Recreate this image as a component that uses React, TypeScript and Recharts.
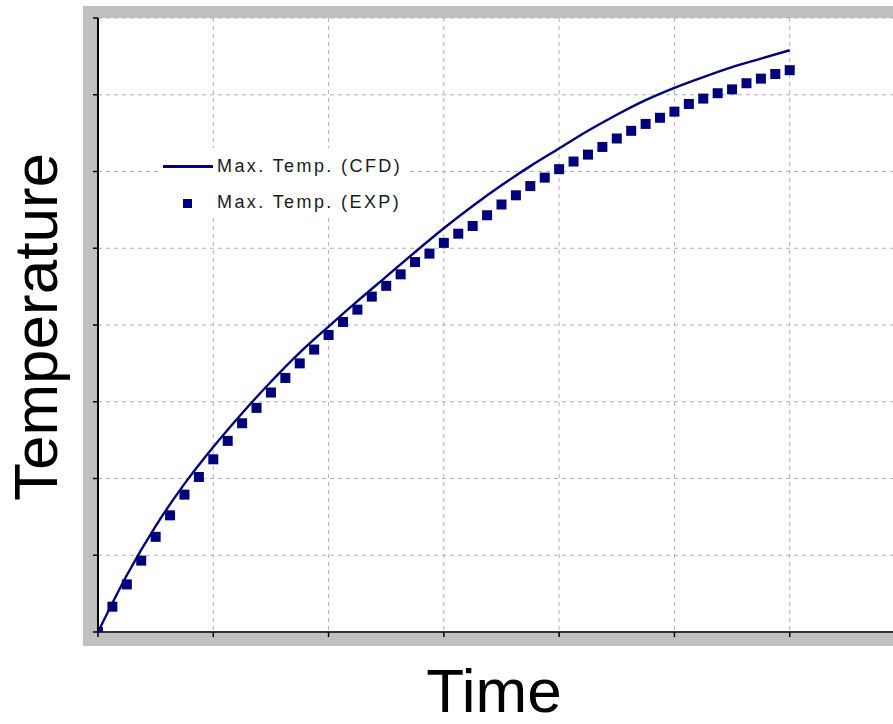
import React from 'react';
import { ComposedChart, Line, Scatter, XAxis, YAxis, CartesianGrid, Legend, Label } from 'recharts';

const xTicks = [0, 1, 2, 3, 4, 5, 6, 7];
const yTicks = [0, 1, 2, 3, 4, 5, 6, 7, 8];

const cfdTime = [0, 0.25, 0.5, 0.75, 1.0, 1.25, 1.5, 1.75, 2.0, 2.25, 2.5, 2.75, 3.0, 3.25, 3.5, 3.75, 4.0, 4.25, 4.5, 4.75, 5.0, 5.25, 5.5, 5.75, 6.0];
const cfdTemp = [0, 0.74, 1.38, 1.93, 2.41, 2.85, 3.26, 3.64, 3.98, 4.31, 4.63, 4.95, 5.26, 5.55, 5.82, 6.07, 6.3, 6.53, 6.74, 6.93, 7.09, 7.23, 7.36, 7.47, 7.58];

const expTime = [0, 0.125, 0.25, 0.375, 0.5, 0.625, 0.75, 0.875, 1.0, 1.125, 1.25, 1.375, 1.5, 1.625, 1.75, 1.875, 2.0, 2.125, 2.25, 2.375, 2.5, 2.625, 2.75, 2.875, 3.0, 3.125, 3.25, 3.375, 3.5, 3.625, 3.75, 3.875, 4.0, 4.125, 4.25, 4.375, 4.5, 4.625, 4.75, 4.875, 5.0, 5.125, 5.25, 5.375, 5.5, 5.625, 5.75, 5.875, 6.0];
const expTemp = [0, 0.33, 0.62, 0.93, 1.24, 1.52, 1.79, 2.02, 2.25, 2.49, 2.72, 2.92, 3.12, 3.31, 3.5, 3.68, 3.87, 4.04, 4.2, 4.37, 4.51, 4.66, 4.82, 4.93, 5.07, 5.19, 5.29, 5.43, 5.57, 5.69, 5.81, 5.92, 6.03, 6.13, 6.22, 6.32, 6.43, 6.53, 6.62, 6.7, 6.78, 6.88, 6.95, 7.02, 7.07, 7.15, 7.21, 7.27, 7.32];

const seriesNames = ['Max. Temp. (CFD)', 'Max. Temp. (EXP)'];
const xTitle = 'Time';
const yTitle = 'Temperature';

const cfdData = cfdTime.map((t, i) => ({ t, v: cfdTemp[i] }));
const expData = expTime.map((t, i) => ({ t, v: expTemp[i] }));

const NAVY = '#000078';
const FONT = '"Liberation Sans", Arial, sans-serif';

const SquareShape = (props: any) => {
  const { cx, cy } = props;
  if (cx == null || cy == null) return null;
  return <rect x={cx - 5} y={cy - 5} width={10} height={10} fill={NAVY} />;
};

const LegendBox = () => (
  <div style={{ position: 'relative', width: 246, height: 68, background: '#fff', overflow: 'hidden', fontFamily: FONT }}>
    <div style={{ position: 'absolute', left: 3, top: 17, width: 50, height: 3, background: NAVY }} />
    <div style={{ position: 'absolute', left: 57, top: 8, fontSize: 18, lineHeight: '20px', letterSpacing: 2.4, color: '#1a1a1a', whiteSpace: 'nowrap' }}>{seriesNames[0]}</div>
    <div style={{ position: 'absolute', left: 23, top: 51, width: 9, height: 9, background: NAVY }} />
    <div style={{ position: 'absolute', left: 57, top: 44, fontSize: 18, lineHeight: '20px', letterSpacing: 2.4, color: '#1a1a1a', whiteSpace: 'nowrap' }}>{seriesNames[1]}</div>
  </div>
);

export default function App() {
  return (
    <div style={{ position: 'absolute', left: 0, top: 0, width: 893, height: 724, overflow: 'hidden', background: '#fff' }}>
      <div style={{ position: 'absolute', left: 83, top: 6, width: 830, height: 640, background: '#c0c0c0' }} />
      <div style={{ position: 'absolute', left: 0, top: 0 }}>
        <ComposedChart width={920} height={724} margin={{ top: 18, right: 15, bottom: 62, left: 38 }}>
          <CartesianGrid fill="#fff" fillOpacity={1} stroke="#b0b0b0" strokeDasharray="4 4" strokeWidth={1} />
          <XAxis
            type="number"
            dataKey="t"
            domain={[0, 7]}
            ticks={xTicks}
            allowDataOverflow
            height={30}
            axisLine={{ stroke: '#333', strokeWidth: 2 }}
            tickLine={{ stroke: '#000', strokeWidth: 1.5 }}
            tickSize={5}
            tickFormatter={() => ''}
          >
            <Label
              content={() => (
                <text x={494} y={712} textAnchor="middle" fontFamily={FONT} fontSize={62} fill="#000">{xTitle}</text>
              )}
            />
          </XAxis>
          <YAxis
            type="number"
            dataKey="v"
            domain={[0, 8]}
            ticks={yTicks}
            allowDataOverflow
            width={60}
            axisLine={{ stroke: '#000', strokeWidth: 2 }}
            tickLine={{ stroke: '#000', strokeWidth: 1.5 }}
            tickSize={5}
            tickFormatter={() => ''}
          >
            <Label
              content={() => (
                <text x={57} y={327} transform="rotate(-90, 57, 327)" textAnchor="middle" fontFamily={FONT} fontSize={62} fill="#000">{yTitle}</text>
              )}
            />
          </YAxis>
          <Legend
            layout="horizontal"
            verticalAlign="middle"
            align="center"
            content={() => <LegendBox />}
            wrapperStyle={{ position: 'absolute', left: 160, top: 148, width: 246, height: 68 }}
          />
          <Line data={cfdData} dataKey="v" type="monotone" stroke={NAVY} strokeWidth={2.4} dot={false} isAnimationActive={false} name={seriesNames[0]} />
          <Scatter data={expData} dataKey="v" fill={NAVY} shape={SquareShape} isAnimationActive={false} name={seriesNames[1]} />
        </ComposedChart>
      </div>
    </div>
  );
}
